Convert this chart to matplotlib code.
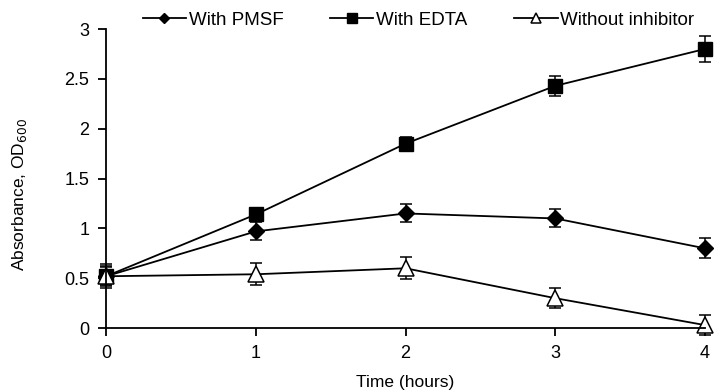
import numpy as np
import matplotlib.pyplot as plt

plt.rcParams['font.family'] = ['Liberation Sans', 'DejaVu Sans']

time = [0, 1, 2, 3, 4]
pmsf = [0.52, 0.97, 1.15, 1.10, 0.80]
pmsf_err = [0.10, 0.09, 0.09, 0.09, 0.10]
edta = [0.52, 1.14, 1.85, 2.43, 2.80]
edta_err = [0.09, 0.05, 0.07, 0.10, 0.13]
none = [0.52, 0.54, 0.60, 0.30, 0.03]
none_err = [0.12, 0.11, 0.11, 0.10, 0.10]

fig = plt.figure(figsize=(7.14, 3.92), dpi=100)
ax = fig.add_axes([0.1485, 0.163, 0.839, 0.763])

kw = dict(color='black', lw=1.3, capsize=4, elinewidth=1.1, capthick=1.1, clip_on=False)
ax.errorbar(time, pmsf, yerr=pmsf_err, marker='D', ms=8, mfc='black', label='With PMSF', **kw)
ax.errorbar(time, edta, yerr=edta_err, marker='s', ms=10, mfc='black', label='With EDTA', **kw)
ax.errorbar(time, none, yerr=none_err, marker='^', ms=11, mfc='white', mew=1.1,
            label='Without inhibitor', **kw)

ax.set_xlim(0, 4)
ax.set_ylim(0, 3)
ax.set_xticks([0, 1, 2, 3, 4])
ax.set_yticks([0, 0.5, 1, 1.5, 2, 2.5, 3])
ax.set_yticklabels(['0', '0.5', '1', '1.5', '2', '2.5', '3'])
for s in ['top', 'right']:
    ax.spines[s].set_visible(False)
for s in ['left', 'bottom']:
    ax.spines[s].set_linewidth(1.3)
ax.tick_params(direction='out', length=6, width=1.3, labelsize=13, pad=6)

ax.set_xlabel('Time (hours)', fontsize=12.5)
ax.set_ylabel('Absorbance, OD$_{600}$', fontsize=12.5)
ax.xaxis.set_label_coords(0.5, -0.158)
ax.yaxis.set_label_coords(-0.128, 0.445)

handles, labels = ax.get_legend_handles_labels()
handles = [h[0] for h in handles]
fig.legend(handles, labels, loc='center left', bbox_to_anchor=(0.2, 0.948), ncol=3,
           frameon=False, fontsize=13.5, handlelength=2.3, handletextpad=0.15,
           columnspacing=2.5, markerscale=0.7, borderaxespad=0, borderpad=0)

fig.savefig('out.png', dpi=100)
